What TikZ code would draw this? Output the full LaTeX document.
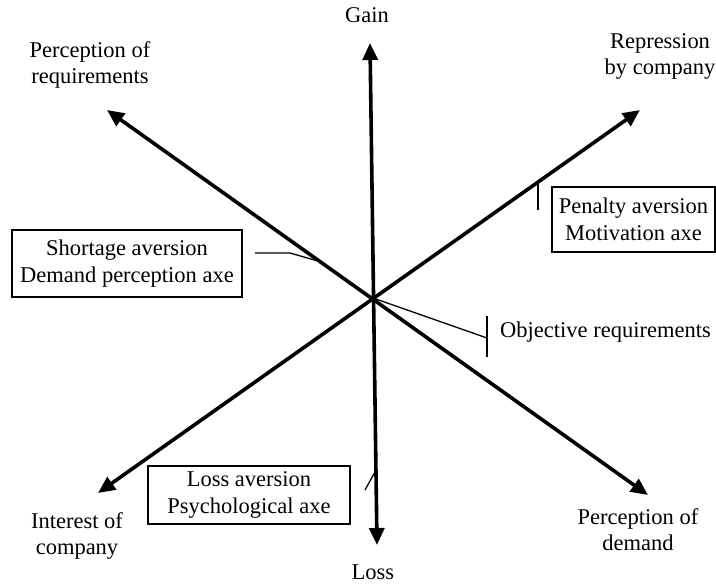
\documentclass[tikz,border=0pt]{standalone}
\usepackage{fontspec}
\setmainfont{Liberation Serif}
\usetikzlibrary{arrows.meta,positioning}

\begin{document}
\begin{tikzpicture}[x=1pt,y=-1pt,
    axe/.style={line width=3.6pt,{Triangle[length=17pt,width=15pt]}-{Triangle[length=17pt,width=15pt]}},
    pointer/.style={line width=1.3pt},
    pole/.style={align=center,inner sep=0pt,font=\fontsize{22.5}{26}\selectfont},
    aversion/.style={draw,line width=1.3pt,align=center,inner sep=0pt,font=\fontsize{22.5}{26.5}\selectfont}]
      \useasboundingbox (0,0) rectangle (716,584);
      % centre and axis ends
      \coordinate (O) at (373,298);
      \coordinate (gaintip) at (370,43);
      \coordinate (losstip) at (377,545);
      \coordinate (reqtip) at (107,110);
      \coordinate (demtip) at (648,495);
      \coordinate (comptip) at (98,493);
      \coordinate (reptip) at (640,110);
      % pointer ends
      \coordinate (saend) at (255,253);
      \coordinate (sakink) at (290,253);
      \coordinate (saaxis) at (318,261);
      \coordinate (paaxis) at (538,182);
      \coordinate (paend) at (538,210);
      \coordinate (orbar) at (487,338);
      \coordinate (ortop) at (487,316);
      \coordinate (orbot) at (487,357);
      \coordinate (laaxis) at (375,472);
      \coordinate (laend) at (365,490);

      \node[pole] (gain) at (367,15) {Gain};
      \node[pole] (loss) at (373,572) {Loss};
      \node[pole] (req) at (90,65) {Perception of\\requirements};
      \node[pole] (rep) at (660,56) {Repression\\by company};
      \node[pole] (comp) at (77,536) {Interest of\\company};
      \node[pole] (dem) at (638,530) {Perception of\\demand};
      \node[pole,anchor=west] (objreq) at (500,332) {Objective requirements};

      \node[aversion,minimum width=230pt,minimum height=67pt] (shortage) at (127,263.5) {Shortage aversion\\Demand perception axe};
      \node[aversion,minimum width=163pt,minimum height=65pt] (penalty) at (633.5,219.5) {Penalty aversion\\Motivation axe};
      \node[aversion,minimum width=202pt,minimum height=58pt] (lossav) at (249,495) {Loss aversion\\Psychological axe};

      \draw[pointer] (saend) -- (sakink) -- (saaxis);
      \draw[pointer] (paaxis) -- (paend);
      \draw[pointer] (O) -- (orbar);
      \draw[pointer] (ortop) -- (orbot);
      \draw[pointer] (laaxis) -- (laend);

      \draw[axe] (gaintip) -- (losstip);
      \draw[axe] (reqtip) -- (demtip);
      \draw[axe] (comptip) -- (reptip);
    \end{tikzpicture}
\end{document}
